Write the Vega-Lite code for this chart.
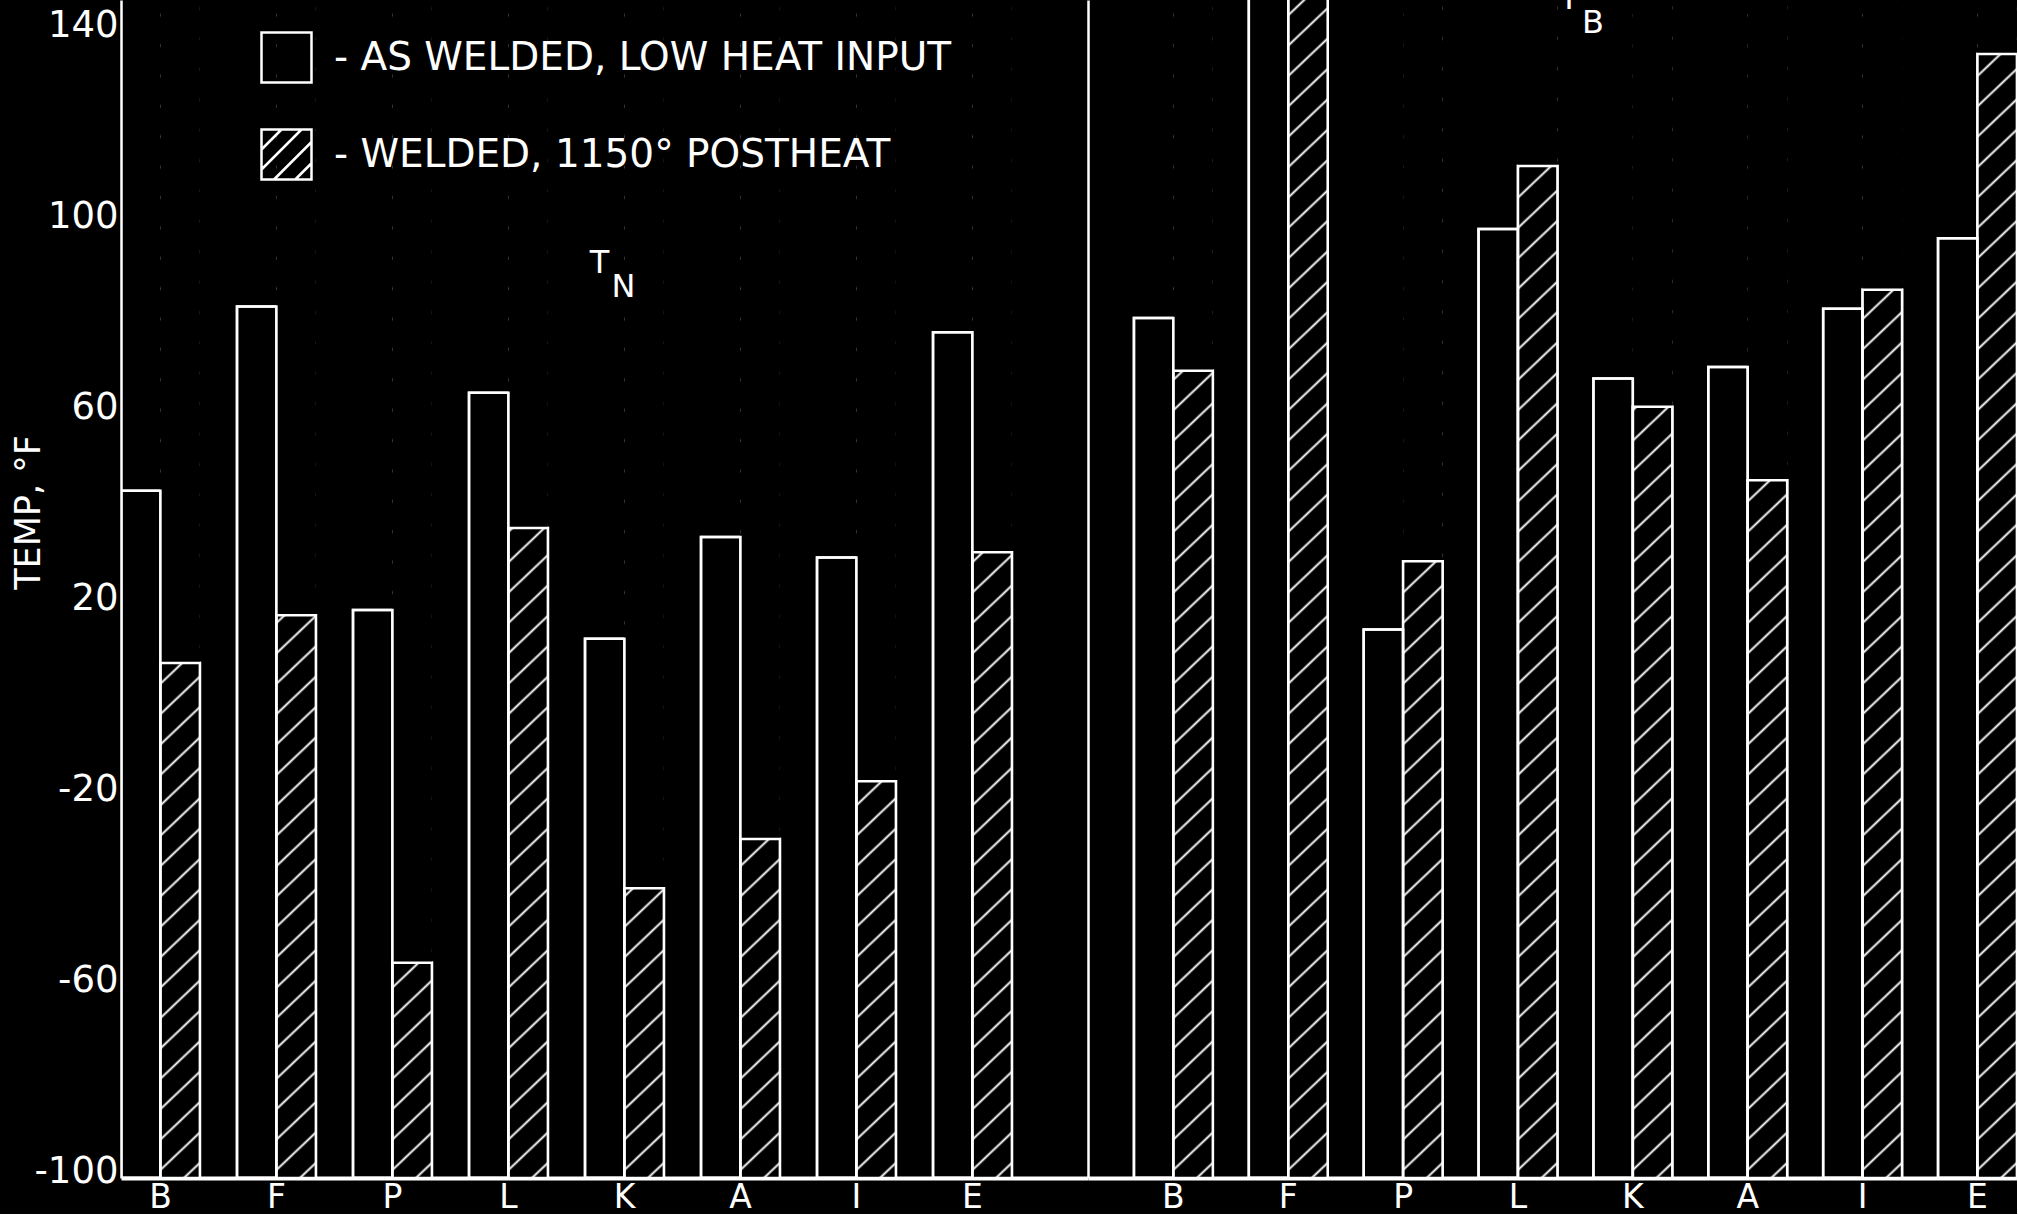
{
  "$schema": "https://vega.github.io/schema/vega-lite/v6.json",
  "background": "black",
  "padding": {"left": 11, "top": 0, "right": 0, "bottom": 0},
  "autosize": {"type": "pad"},
  "config": {
    "view": {"stroke": null},
    "axis": {"grid": false, "ticks": false, "domainColor": "white", "labelColor": "white", "titleColor": "white", "labelFont": "DejaVu Sans", "titleFont": "DejaVu Sans", "titleFontWeight": "normal"},
    "legend": {"labelFont": "DejaVu Sans"}
  },
  "datasets": {
    "temps": [
      {"group": "TN", "material": "B", "condition": "as welded", "temp": 42.6},
      {"group": "TN", "material": "B", "condition": "1150 postheat", "temp": 6.5},
      {"group": "TN", "material": "F", "condition": "as welded", "temp": 81.2},
      {"group": "TN", "material": "F", "condition": "1150 postheat", "temp": 16.5},
      {"group": "TN", "material": "P", "condition": "as welded", "temp": 17.6},
      {"group": "TN", "material": "P", "condition": "1150 postheat", "temp": -56.3},
      {"group": "TN", "material": "L", "condition": "as welded", "temp": 63.1},
      {"group": "TN", "material": "L", "condition": "1150 postheat", "temp": 34.8},
      {"group": "TN", "material": "K", "condition": "as welded", "temp": 11.6},
      {"group": "TN", "material": "K", "condition": "1150 postheat", "temp": -40.7},
      {"group": "TN", "material": "A", "condition": "as welded", "temp": 32.9},
      {"group": "TN", "material": "A", "condition": "1150 postheat", "temp": -30.4},
      {"group": "TN", "material": "I", "condition": "as welded", "temp": 28.6},
      {"group": "TN", "material": "I", "condition": "1150 postheat", "temp": -18.3},
      {"group": "TN", "material": "E", "condition": "as welded", "temp": 75.8},
      {"group": "TN", "material": "E", "condition": "1150 postheat", "temp": 29.7},
      {"group": "TB", "material": "B", "condition": "as welded", "temp": 78.8},
      {"group": "TB", "material": "B", "condition": "1150 postheat", "temp": 67.7},
      {"group": "TB", "material": "F", "condition": "as welded", "temp": 160},
      {"group": "TB", "material": "F", "condition": "1150 postheat", "temp": 160},
      {"group": "TB", "material": "P", "condition": "as welded", "temp": 13.5},
      {"group": "TB", "material": "P", "condition": "1150 postheat", "temp": 27.8},
      {"group": "TB", "material": "L", "condition": "as welded", "temp": 97.4},
      {"group": "TB", "material": "L", "condition": "1150 postheat", "temp": 110.6},
      {"group": "TB", "material": "K", "condition": "as welded", "temp": 66.1},
      {"group": "TB", "material": "K", "condition": "1150 postheat", "temp": 60.2},
      {"group": "TB", "material": "A", "condition": "as welded", "temp": 68.5},
      {"group": "TB", "material": "A", "condition": "1150 postheat", "temp": 44.8},
      {"group": "TB", "material": "I", "condition": "as welded", "temp": 80.7},
      {"group": "TB", "material": "I", "condition": "1150 postheat", "temp": 84.7},
      {"group": "TB", "material": "E", "condition": "as welded", "temp": 95.5},
      {"group": "TB", "material": "E", "condition": "1150 postheat", "temp": 134.1}
    ]
  },
  "spacing": 0,
  "resolve": {"legend": {"shape": "independent"}},
  "hconcat": [
    {
      "width": 967,
      "height": 1178,
      "data": {"name": "temps"},
      "transform": [{"filter": "datum.group == 'TN'"}],
      "layer": [
        {
          "mark": {"type": "bar", "filled": false, "stroke": "white", "strokeWidth": 2.5, "clip": true},
          "encoding": {
            "x": {"field": "material", "type": "nominal", "title": null,
              "scale": {"domain": ["B", "F", "P", "L", "K", "A", "I", "E"], "paddingInner": 0.32, "paddingOuter": 0.328, "align": 0},
              "axis": {"labelAngle": 0, "labelFontSize": 33, "labelPadding": 3, "domainWidth": 4}},
            "xOffset": {"field": "condition", "type": "nominal", "scale": {"domain": ["as welded", "1150 postheat"]}},
            "y": {"field": "temp", "type": "quantitative", "title": "TEMP, °F",
              "scale": {"domain": [-101.4, 145.4], "nice": false, "zero": false},
              "axis": {"values": [-100, -60, -20, 20, 60, 100, 140], "labelExpr": "'' + datum.value", "labelFontSize": 37, "labelPadding": 3, "labelFlush": false, "domainWidth": 2.5, "titleFontSize": 35, "titleX": -93, "titleY": 512, "titleAngle": 270, "titleAlign": "center", "titleBaseline": "middle"}},
            "y2": {"datum": -101.4}
          }
        },
        {
          "transform": [{"filter": "datum.condition == '1150 postheat'"}],
          "mark": {"type": "bar", "strokeWidth": 0, "fill": {"gradient": "linear", "x1": 0, "y1": 0, "x2": 0.0328, "y2": 1.0308, "stops": [
            {"offset":0.0103,"color":"#000"},{"offset":0.0125,"color":"#fff"},{"offset":0.0147,"color":"#000"},
            {"offset":0.0353,"color":"#000"},{"offset":0.0375,"color":"#fff"},{"offset":0.0397,"color":"#000"},
            {"offset":0.0603,"color":"#000"},{"offset":0.0625,"color":"#fff"},{"offset":0.0647,"color":"#000"},
            {"offset":0.0853,"color":"#000"},{"offset":0.0875,"color":"#fff"},{"offset":0.0897,"color":"#000"},
            {"offset":0.1103,"color":"#000"},{"offset":0.1125,"color":"#fff"},{"offset":0.1147,"color":"#000"},
            {"offset":0.1353,"color":"#000"},{"offset":0.1375,"color":"#fff"},{"offset":0.1397,"color":"#000"},
            {"offset":0.1603,"color":"#000"},{"offset":0.1625,"color":"#fff"},{"offset":0.1647,"color":"#000"},
            {"offset":0.1853,"color":"#000"},{"offset":0.1875,"color":"#fff"},{"offset":0.1897,"color":"#000"},
            {"offset":0.2103,"color":"#000"},{"offset":0.2125,"color":"#fff"},{"offset":0.2147,"color":"#000"},
            {"offset":0.2353,"color":"#000"},{"offset":0.2375,"color":"#fff"},{"offset":0.2397,"color":"#000"},
            {"offset":0.2603,"color":"#000"},{"offset":0.2625,"color":"#fff"},{"offset":0.2647,"color":"#000"},
            {"offset":0.2853,"color":"#000"},{"offset":0.2875,"color":"#fff"},{"offset":0.2897,"color":"#000"},
            {"offset":0.3103,"color":"#000"},{"offset":0.3125,"color":"#fff"},{"offset":0.3147,"color":"#000"},
            {"offset":0.3353,"color":"#000"},{"offset":0.3375,"color":"#fff"},{"offset":0.3397,"color":"#000"},
            {"offset":0.3603,"color":"#000"},{"offset":0.3625,"color":"#fff"},{"offset":0.3647,"color":"#000"},
            {"offset":0.3853,"color":"#000"},{"offset":0.3875,"color":"#fff"},{"offset":0.3897,"color":"#000"},
            {"offset":0.4103,"color":"#000"},{"offset":0.4125,"color":"#fff"},{"offset":0.4147,"color":"#000"},
            {"offset":0.4353,"color":"#000"},{"offset":0.4375,"color":"#fff"},{"offset":0.4397,"color":"#000"},
            {"offset":0.4603,"color":"#000"},{"offset":0.4625,"color":"#fff"},{"offset":0.4647,"color":"#000"},
            {"offset":0.4853,"color":"#000"},{"offset":0.4875,"color":"#fff"},{"offset":0.4897,"color":"#000"},
            {"offset":0.5103,"color":"#000"},{"offset":0.5125,"color":"#fff"},{"offset":0.5147,"color":"#000"},
            {"offset":0.5353,"color":"#000"},{"offset":0.5375,"color":"#fff"},{"offset":0.5397,"color":"#000"},
            {"offset":0.5603,"color":"#000"},{"offset":0.5625,"color":"#fff"},{"offset":0.5647,"color":"#000"},
            {"offset":0.5853,"color":"#000"},{"offset":0.5875,"color":"#fff"},{"offset":0.5897,"color":"#000"},
            {"offset":0.6103,"color":"#000"},{"offset":0.6125,"color":"#fff"},{"offset":0.6147,"color":"#000"},
            {"offset":0.6353,"color":"#000"},{"offset":0.6375,"color":"#fff"},{"offset":0.6397,"color":"#000"},
            {"offset":0.6603,"color":"#000"},{"offset":0.6625,"color":"#fff"},{"offset":0.6647,"color":"#000"},
            {"offset":0.6853,"color":"#000"},{"offset":0.6875,"color":"#fff"},{"offset":0.6897,"color":"#000"},
            {"offset":0.7103,"color":"#000"},{"offset":0.7125,"color":"#fff"},{"offset":0.7147,"color":"#000"},
            {"offset":0.7353,"color":"#000"},{"offset":0.7375,"color":"#fff"},{"offset":0.7397,"color":"#000"},
            {"offset":0.7603,"color":"#000"},{"offset":0.7625,"color":"#fff"},{"offset":0.7647,"color":"#000"},
            {"offset":0.7853,"color":"#000"},{"offset":0.7875,"color":"#fff"},{"offset":0.7897,"color":"#000"},
            {"offset":0.8103,"color":"#000"},{"offset":0.8125,"color":"#fff"},{"offset":0.8147,"color":"#000"},
            {"offset":0.8353,"color":"#000"},{"offset":0.8375,"color":"#fff"},{"offset":0.8397,"color":"#000"},
            {"offset":0.8603,"color":"#000"},{"offset":0.8625,"color":"#fff"},{"offset":0.8647,"color":"#000"},
            {"offset":0.8853,"color":"#000"},{"offset":0.8875,"color":"#fff"},{"offset":0.8897,"color":"#000"},
            {"offset":0.9103,"color":"#000"},{"offset":0.9125,"color":"#fff"},{"offset":0.9147,"color":"#000"},
            {"offset":0.9353,"color":"#000"},{"offset":0.9375,"color":"#fff"},{"offset":0.9397,"color":"#000"},
            {"offset":0.9603,"color":"#000"},{"offset":0.9625,"color":"#fff"},{"offset":0.9647,"color":"#000"},
            {"offset":0.9853,"color":"#000"},{"offset":0.9875,"color":"#fff"},{"offset":0.9897,"color":"#000"}
          ]}},
          "encoding": {
            "x": {"field": "material", "type": "nominal"},
            "xOffset": {"field": "condition", "type": "nominal"},
            "y": {"datum": -101.4, "type": "quantitative"},
            "y2": {"datum": 145.4}
          }
        },
        {
          "transform": [{"filter": "datum.condition == '1150 postheat'"}],
          "mark": {"type": "bar", "fill": "black", "strokeWidth": 0, "clip": true},
          "encoding": {
            "x": {"field": "material", "type": "nominal"},
            "xOffset": {"field": "condition", "type": "nominal"},
            "y": {"field": "temp", "type": "quantitative"},
            "y2": {"datum": 145.4}
          }
        },
        {
          "mark": {"type": "bar", "filled": false, "stroke": "white", "strokeWidth": 2.5, "clip": true},
          "encoding": {
            "x": {"field": "material", "type": "nominal"},
            "xOffset": {"field": "condition", "type": "nominal"},
            "y": {"field": "temp", "type": "quantitative"},
            "y2": {"datum": -101.4}
          }
        },
        {
          "mark": {"type": "point", "filled": false, "opacity": 0, "stroke": "white", "color": "white"},
          "encoding": {
            "x": {"field": "material", "type": "nominal"},
            "y": {"field": "temp", "type": "quantitative"},
            "shape": {"field": "condition", "type": "nominal",
              "scale": {"domain": ["as welded", "1150 postheat"], "range": ["M-1,-1H1V1H-1Z", "M-1,-1H1V1H-1Z M-1,-0.2L-0.2,-1 M-1,0.6L0.6,-1 M-0.5,1L1,-0.5 M0.35,1L1,0.35"]},
              "legend": {"orient": "none", "legendX": 139, "legendY": 31, "title": null, "padding": 0, "symbolSize": 2500, "symbolStrokeWidth": 2.5, "symbolStrokeColor": "white", "symbolFillColor": "black", "symbolOpacity": 1, "labelFontSize": 39, "labelColor": "white", "labelOffset": 21, "labelLimit": 0, "rowPadding": 36,
                "labelExpr": "datum.label == 'as welded' ? '- AS WELDED, LOW HEAT INPUT' : '- WELDED, 1150° POSTHEAT'"}}
          }
        },
        {
          "data": {"values": [{}]},
          "mark": {"type": "text", "text": "T", "font": "DejaVu Sans", "fontSize": 32, "color": "white", "align": "center", "baseline": "middle", "dx": -25},
          "encoding": {"x": {"datum": "K", "type": "nominal"}, "y": {"datum": 90.4, "type": "quantitative"}}
        },
        {
          "data": {"values": [{}]},
          "mark": {"type": "text", "text": "N", "font": "DejaVu Sans", "fontSize": 32, "color": "white", "align": "center", "baseline": "middle", "dx": -1},
          "encoding": {"x": {"datum": "K", "type": "nominal"}, "y": {"datum": 85.3, "type": "quantitative"}}
        }
      ]
    },
    {
      "width": 929,
      "height": 1178,
      "data": {"name": "temps"},
      "transform": [{"filter": "datum.group == 'TB'"}],
      "layer": [
        {
          "mark": {"type": "bar", "filled": false, "stroke": "white", "strokeWidth": 2.5, "clip": true},
          "encoding": {
            "x": {"field": "material", "type": "nominal", "title": null,
              "scale": {"domain": ["B", "F", "P", "L", "K", "A", "I", "E"], "paddingInner": 0.3125, "paddingOuter": 0.2, "align": 1},
              "axis": {"labelAngle": 0, "labelFontSize": 33, "labelPadding": 3, "domainWidth": 4}},
            "xOffset": {"field": "condition", "type": "nominal", "scale": {"domain": ["as welded", "1150 postheat"]}},
            "y": {"field": "temp", "type": "quantitative", "title": null,
              "scale": {"domain": [-101.4, 145.4], "nice": false, "zero": false},
              "axis": {"labels": false, "domainWidth": 2.5}},
            "y2": {"datum": -101.4}
          }
        },
        {
          "transform": [{"filter": "datum.condition == '1150 postheat'"}],
          "mark": {"type": "bar", "strokeWidth": 0, "fill": {"gradient": "linear", "x1": 0, "y1": 0, "x2": 0.0328, "y2": 1.0308, "stops": [
            {"offset":0.0103,"color":"#000"},{"offset":0.0125,"color":"#fff"},{"offset":0.0147,"color":"#000"},
            {"offset":0.0353,"color":"#000"},{"offset":0.0375,"color":"#fff"},{"offset":0.0397,"color":"#000"},
            {"offset":0.0603,"color":"#000"},{"offset":0.0625,"color":"#fff"},{"offset":0.0647,"color":"#000"},
            {"offset":0.0853,"color":"#000"},{"offset":0.0875,"color":"#fff"},{"offset":0.0897,"color":"#000"},
            {"offset":0.1103,"color":"#000"},{"offset":0.1125,"color":"#fff"},{"offset":0.1147,"color":"#000"},
            {"offset":0.1353,"color":"#000"},{"offset":0.1375,"color":"#fff"},{"offset":0.1397,"color":"#000"},
            {"offset":0.1603,"color":"#000"},{"offset":0.1625,"color":"#fff"},{"offset":0.1647,"color":"#000"},
            {"offset":0.1853,"color":"#000"},{"offset":0.1875,"color":"#fff"},{"offset":0.1897,"color":"#000"},
            {"offset":0.2103,"color":"#000"},{"offset":0.2125,"color":"#fff"},{"offset":0.2147,"color":"#000"},
            {"offset":0.2353,"color":"#000"},{"offset":0.2375,"color":"#fff"},{"offset":0.2397,"color":"#000"},
            {"offset":0.2603,"color":"#000"},{"offset":0.2625,"color":"#fff"},{"offset":0.2647,"color":"#000"},
            {"offset":0.2853,"color":"#000"},{"offset":0.2875,"color":"#fff"},{"offset":0.2897,"color":"#000"},
            {"offset":0.3103,"color":"#000"},{"offset":0.3125,"color":"#fff"},{"offset":0.3147,"color":"#000"},
            {"offset":0.3353,"color":"#000"},{"offset":0.3375,"color":"#fff"},{"offset":0.3397,"color":"#000"},
            {"offset":0.3603,"color":"#000"},{"offset":0.3625,"color":"#fff"},{"offset":0.3647,"color":"#000"},
            {"offset":0.3853,"color":"#000"},{"offset":0.3875,"color":"#fff"},{"offset":0.3897,"color":"#000"},
            {"offset":0.4103,"color":"#000"},{"offset":0.4125,"color":"#fff"},{"offset":0.4147,"color":"#000"},
            {"offset":0.4353,"color":"#000"},{"offset":0.4375,"color":"#fff"},{"offset":0.4397,"color":"#000"},
            {"offset":0.4603,"color":"#000"},{"offset":0.4625,"color":"#fff"},{"offset":0.4647,"color":"#000"},
            {"offset":0.4853,"color":"#000"},{"offset":0.4875,"color":"#fff"},{"offset":0.4897,"color":"#000"},
            {"offset":0.5103,"color":"#000"},{"offset":0.5125,"color":"#fff"},{"offset":0.5147,"color":"#000"},
            {"offset":0.5353,"color":"#000"},{"offset":0.5375,"color":"#fff"},{"offset":0.5397,"color":"#000"},
            {"offset":0.5603,"color":"#000"},{"offset":0.5625,"color":"#fff"},{"offset":0.5647,"color":"#000"},
            {"offset":0.5853,"color":"#000"},{"offset":0.5875,"color":"#fff"},{"offset":0.5897,"color":"#000"},
            {"offset":0.6103,"color":"#000"},{"offset":0.6125,"color":"#fff"},{"offset":0.6147,"color":"#000"},
            {"offset":0.6353,"color":"#000"},{"offset":0.6375,"color":"#fff"},{"offset":0.6397,"color":"#000"},
            {"offset":0.6603,"color":"#000"},{"offset":0.6625,"color":"#fff"},{"offset":0.6647,"color":"#000"},
            {"offset":0.6853,"color":"#000"},{"offset":0.6875,"color":"#fff"},{"offset":0.6897,"color":"#000"},
            {"offset":0.7103,"color":"#000"},{"offset":0.7125,"color":"#fff"},{"offset":0.7147,"color":"#000"},
            {"offset":0.7353,"color":"#000"},{"offset":0.7375,"color":"#fff"},{"offset":0.7397,"color":"#000"},
            {"offset":0.7603,"color":"#000"},{"offset":0.7625,"color":"#fff"},{"offset":0.7647,"color":"#000"},
            {"offset":0.7853,"color":"#000"},{"offset":0.7875,"color":"#fff"},{"offset":0.7897,"color":"#000"},
            {"offset":0.8103,"color":"#000"},{"offset":0.8125,"color":"#fff"},{"offset":0.8147,"color":"#000"},
            {"offset":0.8353,"color":"#000"},{"offset":0.8375,"color":"#fff"},{"offset":0.8397,"color":"#000"},
            {"offset":0.8603,"color":"#000"},{"offset":0.8625,"color":"#fff"},{"offset":0.8647,"color":"#000"},
            {"offset":0.8853,"color":"#000"},{"offset":0.8875,"color":"#fff"},{"offset":0.8897,"color":"#000"},
            {"offset":0.9103,"color":"#000"},{"offset":0.9125,"color":"#fff"},{"offset":0.9147,"color":"#000"},
            {"offset":0.9353,"color":"#000"},{"offset":0.9375,"color":"#fff"},{"offset":0.9397,"color":"#000"},
            {"offset":0.9603,"color":"#000"},{"offset":0.9625,"color":"#fff"},{"offset":0.9647,"color":"#000"},
            {"offset":0.9853,"color":"#000"},{"offset":0.9875,"color":"#fff"},{"offset":0.9897,"color":"#000"}
          ]}},
          "encoding": {
            "x": {"field": "material", "type": "nominal"},
            "xOffset": {"field": "condition", "type": "nominal"},
            "y": {"datum": -101.4, "type": "quantitative"},
            "y2": {"datum": 145.4}
          }
        },
        {
          "transform": [{"filter": "datum.condition == '1150 postheat'"}],
          "mark": {"type": "bar", "fill": "black", "strokeWidth": 0, "clip": true},
          "encoding": {
            "x": {"field": "material", "type": "nominal"},
            "xOffset": {"field": "condition", "type": "nominal"},
            "y": {"field": "temp", "type": "quantitative"},
            "y2": {"datum": 145.4}
          }
        },
        {
          "mark": {"type": "bar", "filled": false, "stroke": "white", "strokeWidth": 2.5, "clip": true},
          "encoding": {
            "x": {"field": "material", "type": "nominal"},
            "xOffset": {"field": "condition", "type": "nominal"},
            "y": {"field": "temp", "type": "quantitative"},
            "y2": {"datum": -101.4}
          }
        },
        {
          "data": {"values": [{}]},
          "mark": {"type": "text", "text": "T", "font": "DejaVu Sans", "fontSize": 32, "color": "white", "align": "center", "baseline": "middle", "dx": -64, "clip": true},
          "encoding": {"x": {"datum": "K", "type": "nominal"}, "y": {"datum": 145.6, "type": "quantitative"}}
        },
        {
          "data": {"values": [{}]},
          "mark": {"type": "text", "text": "B", "font": "DejaVu Sans", "fontSize": 32, "color": "white", "align": "center", "baseline": "middle", "dx": -40},
          "encoding": {"x": {"datum": "K", "type": "nominal"}, "y": {"datum": 140.6, "type": "quantitative"}}
        }
      ]
    }
  ]
}
